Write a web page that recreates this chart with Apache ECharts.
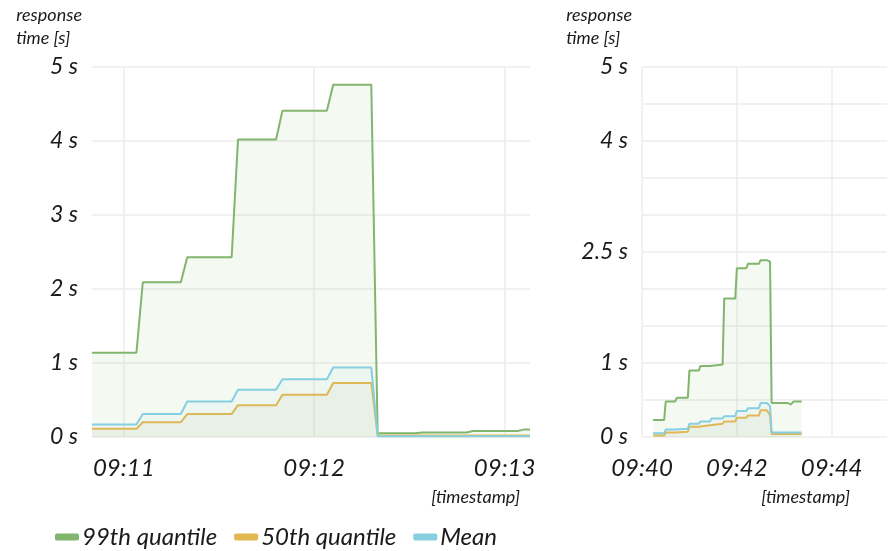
<!DOCTYPE html>
<html>
<head>
<meta charset="utf-8">
<script src="https://cdn.jsdelivr.net/npm/echarts@6/dist/echarts.min.js"></script>
<style>
html,body{margin:0;padding:0;background:#fff;}
#chart{width:889px;height:551px;}
</style>
</head>
<body>
<div id="chart"></div>
<script>
// ---- data: left panel ----
const leftTimes = ['09:10:50','09:11:04','09:11:06','09:11:18','09:11:20','09:11:34','09:11:36','09:11:48','09:11:50','09:12:04','09:12:06','09:12:18','09:12:20','09:12:32','09:12:34','09:12:48','09:12:50','09:13:04','09:13:06','09:13:08'];
const left99   = [1.14,1.14,2.09,2.09,2.43,2.43,4.02,4.02,4.41,4.41,4.76,4.76,0.05,0.05,0.06,0.06,0.08,0.08,0.10,0.10];
const left50   = [0.11,0.11,0.20,0.20,0.31,0.31,0.43,0.43,0.57,0.57,0.73,0.73,0.02,0.02,0.02,0.02,0.02,0.02,0.02,0.02];
const leftMean = [0.17,0.17,0.31,0.31,0.48,0.48,0.64,0.64,0.78,0.78,0.94,0.94,0.01,0.01,0.01,0.01,0.01,0.01,0.01,0.01];
const leftXTicks = ['09:11','09:12','09:13'];
const leftXRange = ['09:10:50','09:13:08'];
const leftYTicks = [0,1,2,3,4,5];

// ---- data: right panel ----
const rightTimes = ['09:40:14','09:40:28','09:40:30','09:40:42','09:40:44','09:40:58','09:41:00','09:41:12','09:41:14','09:41:26','09:41:28','09:41:42','09:41:44','09:41:58','09:42:00','09:42:12','09:42:14','09:42:28','09:42:30','09:42:38','09:42:42','09:42:44','09:43:04','09:43:08','09:43:12','09:43:22'];
const right99   = [0.23,0.23,0.48,0.48,0.53,0.53,0.90,0.90,0.96,0.96,0.98,0.98,1.87,1.87,2.28,2.28,2.34,2.34,2.39,2.39,2.37,0.46,0.46,0.44,0.48,0.48];
const right50   = [0.02,0.02,0.06,0.06,0.07,0.07,0.14,0.14,0.16,0.16,0.18,0.18,0.21,0.21,0.26,0.26,0.29,0.29,0.36,0.36,0.30,0.04,0.04,0.04,0.04,0.04];
const rightMean = [0.05,0.05,0.10,0.10,0.11,0.11,0.18,0.18,0.21,0.21,0.25,0.25,0.28,0.28,0.35,0.35,0.39,0.39,0.46,0.46,0.42,0.06,0.06,0.06,0.06,0.06];
const rightXTicks = ['09:40','09:42','09:44'];
const rightXRange = ['09:40:00','09:45:10'];
const rightYLabels = [0,1,2.5,4,5];

const seriesNames = ['99th quantile','50th quantile','Mean'];

// ---- helpers ----
function toSec(s){const p=s.split(':').map(Number);return p[0]*3600+p[1]*60+(p[2]||0);}
function fmt(v){const h=Math.floor(v/3600),m=Math.floor((v%3600)/60);return String(h).padStart(2,'0')+':'+String(m).padStart(2,'0');}
function pairs(times, vals){return times.map((t,i)=>[toSec(t), vals[i]]);}

const FONT = 'Lato';
const colors = {g:'#82b56e', o:'#e4b850', b:'#86cfe0'};
const gridLineStyle = {color:'#ececec', width:1.5};

function xAxis(gridIndex, ticks, range){
  const cv = ticks.map(toSec);
  return {
    type:'value', gridIndex, min:toSec(range[0]), max:toSec(range[1]),
    axisLine:{show:false}, axisTick:{show:false, customValues:cv},
    axisLabel:{customValues:cv, formatter:fmt, color:'#1a1a1a', fontFamily:FONT, fontStyle:'italic', fontSize:24, margin:19},
    splitLine:{show:true, lineStyle:gridLineStyle}
  };
}
function yAxis(gridIndex, interval, labels){
  return {
    type:'value', gridIndex, min:0, max:5, interval,
    axisLine:{show:false}, axisTick:{show:false},
    axisLabel:{color:'#1a1a1a', fontFamily:FONT, fontStyle:'italic', fontSize:23, margin:14,
      formatter:v=> labels.some(l=>Math.abs(l-v)<1e-9) ? v+' s' : ''},
    splitLine:{show:true, lineStyle:gridLineStyle}
  };
}
function mkSeries(name, color, fill, data, gi){
  return {
    name, type:'line', xAxisIndex:gi, yAxisIndex:gi, data, showSymbol:false, symbol:'none',
    lineStyle:{color, width:2}, itemStyle:{color}, areaStyle:{color:fill, origin:'start'},
    animation:false, z: name==='Mean'?4:(name==='50th quantile'?3:2)
  };
}

const axisNameStyle = {text:'response\ntime [s]', align:'right', fontFamily:FONT, fontStyle:'italic', fontSize:18, lineHeight:23, fill:'#1a1a1a'};
const tsStyle = {text:'[timestamp]', fontFamily:FONT, fontStyle:'italic', fontSize:18, fill:'#1a1a1a'};

const option = {
  backgroundColor:'#fff',
  animation:false,
  grid:[
    {left:92, top:67, width:438, height:370},
    {left:642, top:67, width:245, height:370}
  ],
  xAxis:[xAxis(0,leftXTicks,leftXRange), xAxis(1,rightXTicks,rightXRange)],
  yAxis:[yAxis(0,1,leftYTicks), yAxis(1,0.5,rightYLabels)],
  legend:{
    data:seriesNames, left:50, top:520, icon:'roundRect', itemWidth:24, itemHeight:7, itemGap:17,
    textStyle:{fontFamily:FONT, fontStyle:'italic', fontSize:24, color:'#1a1a1a', padding:[0,0,0,-2]}
  },
  graphic:[
    {type:'text', right:889-82, top:4, style:axisNameStyle},
    {type:'text', right:889-632, top:4, style:axisNameStyle},
    {type:'text', right:889-520, top:488, style:tsStyle},
    {type:'text', right:889-850, top:488, style:tsStyle}
  ],
  series:[
    mkSeries(seriesNames[0], colors.g, 'rgba(130,181,110,0.12)', pairs(leftTimes,left99), 0),
    mkSeries(seriesNames[1], colors.o, 'rgba(200,170,90,0.10)', pairs(leftTimes,left50), 0),
    mkSeries(seriesNames[2], colors.b, 'rgba(134,207,224,0.08)', pairs(leftTimes,leftMean), 0),
    mkSeries(seriesNames[0], colors.g, 'rgba(130,181,110,0.12)', pairs(rightTimes,right99), 1),
    mkSeries(seriesNames[1], colors.o, 'rgba(200,170,90,0.10)', pairs(rightTimes,right50), 1),
    mkSeries(seriesNames[2], colors.b, 'rgba(134,207,224,0.08)', pairs(rightTimes,rightMean), 1)
  ]
};
const chart = echarts.init(document.getElementById('chart'), null, {renderer:'canvas'});
chart.setOption(option);
</script>
</body>
</html>
